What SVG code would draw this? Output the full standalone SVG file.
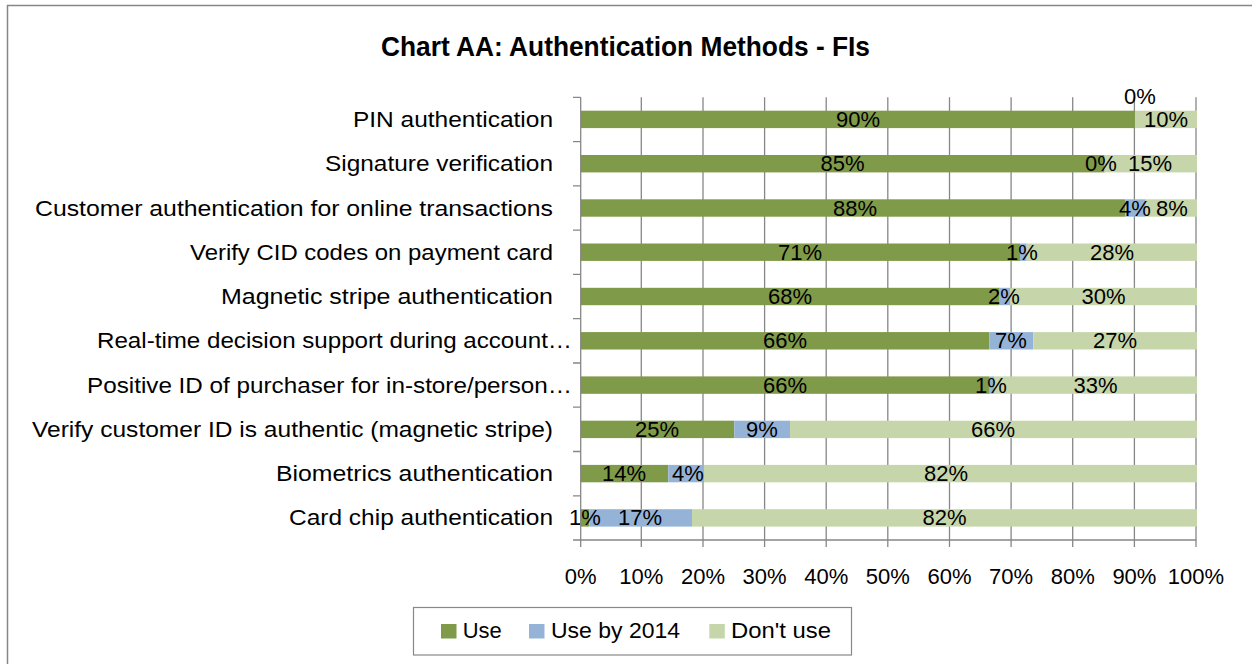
<svg xmlns="http://www.w3.org/2000/svg" width="1252" height="664" viewBox="0 0 1252 664">
<style>
text{font-family:"Liberation Sans",Arial,sans-serif;font-size:22px;fill:#000}
.t{font-size:27px;font-weight:bold;text-anchor:middle}
.cat{text-anchor:end}
.v{text-anchor:middle}
.g{fill:#7F9A48}
.b{fill:#95B3D7}
.l{fill:#C6D6AA}
.grid{stroke:#878787;stroke-width:1.3;fill:none}
</style>
<rect width="1252" height="664" fill="#fff"/>
<rect x="7.5" y="5.5" width="1300" height="700" fill="none" stroke="#868686" stroke-width="1.5"/>
<text id="title" class="t" x="625.5" y="56" textLength="489" lengthAdjust="spacingAndGlyphs">Chart AA: Authentication Methods - FIs</text>

<g id="axes">
<path class="grid" d="M641.3 97.3V540M703 97.3V540M764.6 97.3V540M826.2 97.3V540M887.8 97.3V540M949.5 97.3V540M1011.1 97.3V540M1072.7 97.3V540M1134.4 97.3V540M1196 97.3V540"/>
</g>

<g id="row-pin">
<text class="cat" x="553" y="127" textLength="200" lengthAdjust="spacingAndGlyphs">PIN authentication</text>
<rect class="g" x="580.7" y="110.7" width="554.7" height="17.4"/><rect class="l" x="1135.4" y="110.7" width="61.6" height="17.4"/>
<text class="v" x="858" y="127">90%</text><text class="v" x="1140" y="104">0%</text><text class="v" x="1166" y="127">10%</text>
</g>
<g id="row-signature">
<text class="cat" x="553" y="171.2" textLength="228" lengthAdjust="spacingAndGlyphs">Signature verification</text>
<rect class="g" x="580.7" y="155" width="523.9" height="17.4"/><rect class="l" x="1104.6" y="155" width="92.4" height="17.4"/>
<text class="v" x="842.6" y="171.2">85%</text><text class="v" x="1101" y="171.2">0%</text><text class="v" x="1150" y="171.2">15%</text>
</g>
<g id="row-customer">
<text class="cat" x="553" y="215.5" textLength="518" lengthAdjust="spacingAndGlyphs">Customer authentication for online transactions</text>
<rect class="g" x="580.7" y="199.3" width="544.6" height="17.4"/><rect class="b" x="1125.3" y="199.3" width="20.4" height="17.4"/><rect class="l" x="1145.7" y="199.3" width="51.3" height="17.4"/>
<text class="v" x="855" y="215.5">88%</text><text class="v" x="1135" y="215.5">4%</text><text class="v" x="1172" y="215.5">8%</text>
</g>
<g id="row-cid">
<text class="cat" x="553" y="259.7" textLength="363" lengthAdjust="spacingAndGlyphs">Verify CID codes on payment card</text>
<rect class="g" x="580.7" y="243.5" width="439.3" height="17.4"/><rect class="b" x="1020" y="243.5" width="6.7" height="17.4"/><rect class="l" x="1026.7" y="243.5" width="170.3" height="17.4"/>
<text class="v" x="800" y="259.7">71%</text><text class="v" x="1022" y="259.7">1%</text><text class="v" x="1112" y="259.7">28%</text>
</g>
<g id="row-magnetic">
<text class="cat" x="553" y="304" textLength="332" lengthAdjust="spacingAndGlyphs">Magnetic stripe authentication</text>
<rect class="g" x="580.7" y="287.8" width="418.3" height="17.4"/><rect class="b" x="999" y="287.8" width="11" height="17.4"/><rect class="l" x="1010" y="287.8" width="187" height="17.4"/>
<text class="v" x="790" y="304">68%</text><text class="v" x="1004" y="304">2%</text><text class="v" x="1103.5" y="304">30%</text>
</g>
<g id="row-realtime">
<text class="cat" x="572" y="348.3" textLength="475" lengthAdjust="spacingAndGlyphs">Real-time decision support during account…</text>
<rect class="g" x="580.7" y="332.1" width="408.6" height="17.4"/><rect class="b" x="989.3" y="332.1" width="44" height="17.4"/><rect class="l" x="1033.3" y="332.1" width="163.7" height="17.4"/>
<text class="v" x="785" y="348.3">66%</text><text class="v" x="1011" y="348.3">7%</text><text class="v" x="1115" y="348.3">27%</text>
</g>
<g id="row-positive">
<text class="cat" x="572" y="392.6" textLength="485" lengthAdjust="spacingAndGlyphs">Positive ID of purchaser for in-store/person…</text>
<rect class="g" x="580.7" y="376.4" width="408.3" height="17.4"/><rect class="b" x="989" y="376.4" width="5" height="17.4"/><rect class="l" x="994" y="376.4" width="203" height="17.4"/>
<text class="v" x="785" y="392.6">66%</text><text class="v" x="991" y="392.6">1%</text><text class="v" x="1095.5" y="392.6">33%</text>
</g>
<g id="row-verify-id">
<text class="cat" x="553" y="436.9" textLength="521" lengthAdjust="spacingAndGlyphs">Verify customer ID is authentic (magnetic stripe)</text>
<rect class="g" x="580.7" y="420.7" width="153.6" height="17.4"/><rect class="b" x="734.3" y="420.7" width="55.7" height="17.4"/><rect class="l" x="790" y="420.7" width="407" height="17.4"/>
<text class="v" x="657" y="436.9">25%</text><text class="v" x="762" y="436.9">9%</text><text class="v" x="993" y="436.9">66%</text>
</g>
<g id="row-biometrics">
<text class="cat" x="553" y="481.1" textLength="277" lengthAdjust="spacingAndGlyphs">Biometrics authentication</text>
<rect class="g" x="580.7" y="464.9" width="87.6" height="17.4"/><rect class="b" x="668.3" y="464.9" width="35.7" height="17.4"/><rect class="l" x="704" y="464.9" width="493" height="17.4"/>
<text class="v" x="624" y="481.1">14%</text><text class="v" x="688" y="481.1">4%</text><text class="v" x="946" y="481.1">82%</text>
</g>
<g id="row-chip">
<text class="cat" x="553" y="525.4" textLength="264" lengthAdjust="spacingAndGlyphs">Card chip authentication</text>
<rect class="g" x="580.7" y="509.2" width="8.6" height="17.4"/><rect class="b" x="589.3" y="509.2" width="102.7" height="17.4"/><rect class="l" x="692" y="509.2" width="505" height="17.4"/>
<text class="v" x="585" y="525.4">1%</text><text class="v" x="640" y="525.4">17%</text><text class="v" x="944.5" y="525.4">82%</text>
</g>

<g id="axis-lines">
<path class="grid" d="M580.7 97.3V540H1196.5M573 97.3H580.7M573 141.6H580.7M573 185.9H580.7M573 230.1H580.7M573 274.4H580.7M573 318.7H580.7M573 363H580.7M573 407.2H580.7M573 451.5H580.7M573 495.8H580.7M573 540H580.7M580.7 540V547M641.3 540V547M703 540V547M764.6 540V547M826.2 540V547M887.8 540V547M949.5 540V547M1011.1 540V547M1072.7 540V547M1134.4 540V547M1196 540V547"/>
</g>
<g id="x-labels">
<text class="v" x="580.7" y="584">0%</text><text class="v" x="641.3" y="584">10%</text><text class="v" x="703" y="584">20%</text><text class="v" x="764.6" y="584">30%</text><text class="v" x="826.2" y="584">40%</text><text class="v" x="887.8" y="584">50%</text><text class="v" x="949.5" y="584">60%</text><text class="v" x="1011.1" y="584">70%</text><text class="v" x="1072.7" y="584">80%</text><text class="v" x="1134.4" y="584">90%</text><text class="v" x="1196" y="584">100%</text>
</g>

<g id="legend">
<rect x="413.5" y="607.5" width="438" height="47.5" fill="#fff" stroke="#888" stroke-width="1.2"/>
<rect class="g" x="441" y="624" width="15.5" height="14.5"/>
<text x="462.7" y="638.3" textLength="39" lengthAdjust="spacingAndGlyphs">Use</text>
<rect class="b" x="529" y="624" width="15.5" height="14.5"/>
<text x="551" y="638.3" textLength="129" lengthAdjust="spacingAndGlyphs">Use by 2014</text>
<rect class="l" x="709.3" y="624" width="15.5" height="14.5"/>
<text x="731" y="638.3" textLength="100" lengthAdjust="spacingAndGlyphs">Don't use</text>
</g>
</svg>
